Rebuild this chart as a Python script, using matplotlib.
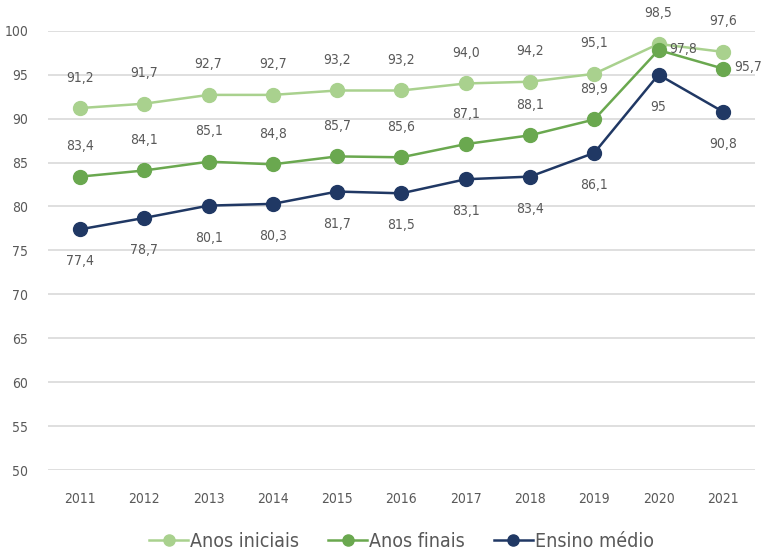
import matplotlib.pyplot as plt

# data
years = [2011, 2012, 2013, 2014, 2015, 2016, 2017, 2018, 2019, 2020, 2021]
anos_iniciais = [91.2, 91.7, 92.7, 92.7, 93.2, 93.2, 94.0, 94.2, 95.1, 98.5, 97.6]
anos_finais = [83.4, 84.1, 85.1, 84.8, 85.7, 85.6, 87.1, 88.1, 89.9, 97.8, 95.7]
ensino_medio = [77.4, 78.7, 80.1, 80.3, 81.7, 81.5, 83.1, 83.4, 86.1, 95.0, 90.8]
medio_labels = ['77,4', '78,7', '80,1', '80,3', '81,7', '81,5', '83,1', '83,4', '86,1', '95', '90,8']
yticks = [50, 55, 60, 65, 70, 75, 80, 85, 90, 95, 100]

plt.rcParams['font.family'] = ['DejaVu Sans']
plt.rcParams['font.stretch'] = 'condensed'

text_color = '#595959'
c_ini = '#a9d18e'
c_fin = '#6aa84f'
c_med = '#203864'

fig = plt.figure(figsize=(7.61, 5.59), dpi=100)
ax = fig.add_axes([0.063, 0.159, 0.929, 0.786])

x = list(range(len(years)))
ax.plot(x, anos_iniciais, color=c_ini, lw=1.8, marker='o', ms=10, label='Anos iniciais', zorder=3)
ax.plot(x, anos_finais, color=c_fin, lw=1.8, marker='o', ms=10, label='Anos finais', zorder=4)
ax.plot(x, ensino_medio, color=c_med, lw=1.8, marker='o', ms=10, label='Ensino médio', zorder=5)

def fmt(v):
    return f'{v:.1f}'.replace('.', ',')

lbl = dict(color=text_color, fontsize=10, ha='center', va='center')

for i, v in enumerate(anos_iniciais):
    ax.annotate(fmt(v), (i, v), xytext=(0, 22), textcoords='offset points', **lbl)

for i, v in enumerate(anos_finais):
    if i >= 9:
        ax.annotate(fmt(v), (i, v), xytext=(18, 1), textcoords='offset points', **lbl)
    else:
        ax.annotate(fmt(v), (i, v), xytext=(0, 22), textcoords='offset points', **lbl)

for i, v in enumerate(ensino_medio):
    ax.annotate(medio_labels[i], (i, v), xytext=(0, -23), textcoords='offset points', **lbl)

ax.set_xlim(-0.5, len(years) - 0.5)
ax.set_ylim(50, 100)
ax.set_xticks(x)
ax.set_xticklabels([str(y) for y in years])
ax.set_yticks(yticks)
ax.grid(axis='y', color='#d9d9d9', lw=1.2)
ax.set_axisbelow(True)
for s in ax.spines.values():
    s.set_visible(False)
ax.tick_params(length=0, colors=text_color, labelsize=10)
ax.tick_params(axis='x', pad=16)
ax.tick_params(axis='y', pad=14)

ax.legend(loc='upper center', bbox_to_anchor=(0.5, -0.1), ncol=3, frameon=False,
          fontsize=14, labelcolor=text_color, handlelength=2, handletextpad=0.1,
          columnspacing=1.5, markerscale=0.8)

fig.savefig('out.png', dpi=100)
